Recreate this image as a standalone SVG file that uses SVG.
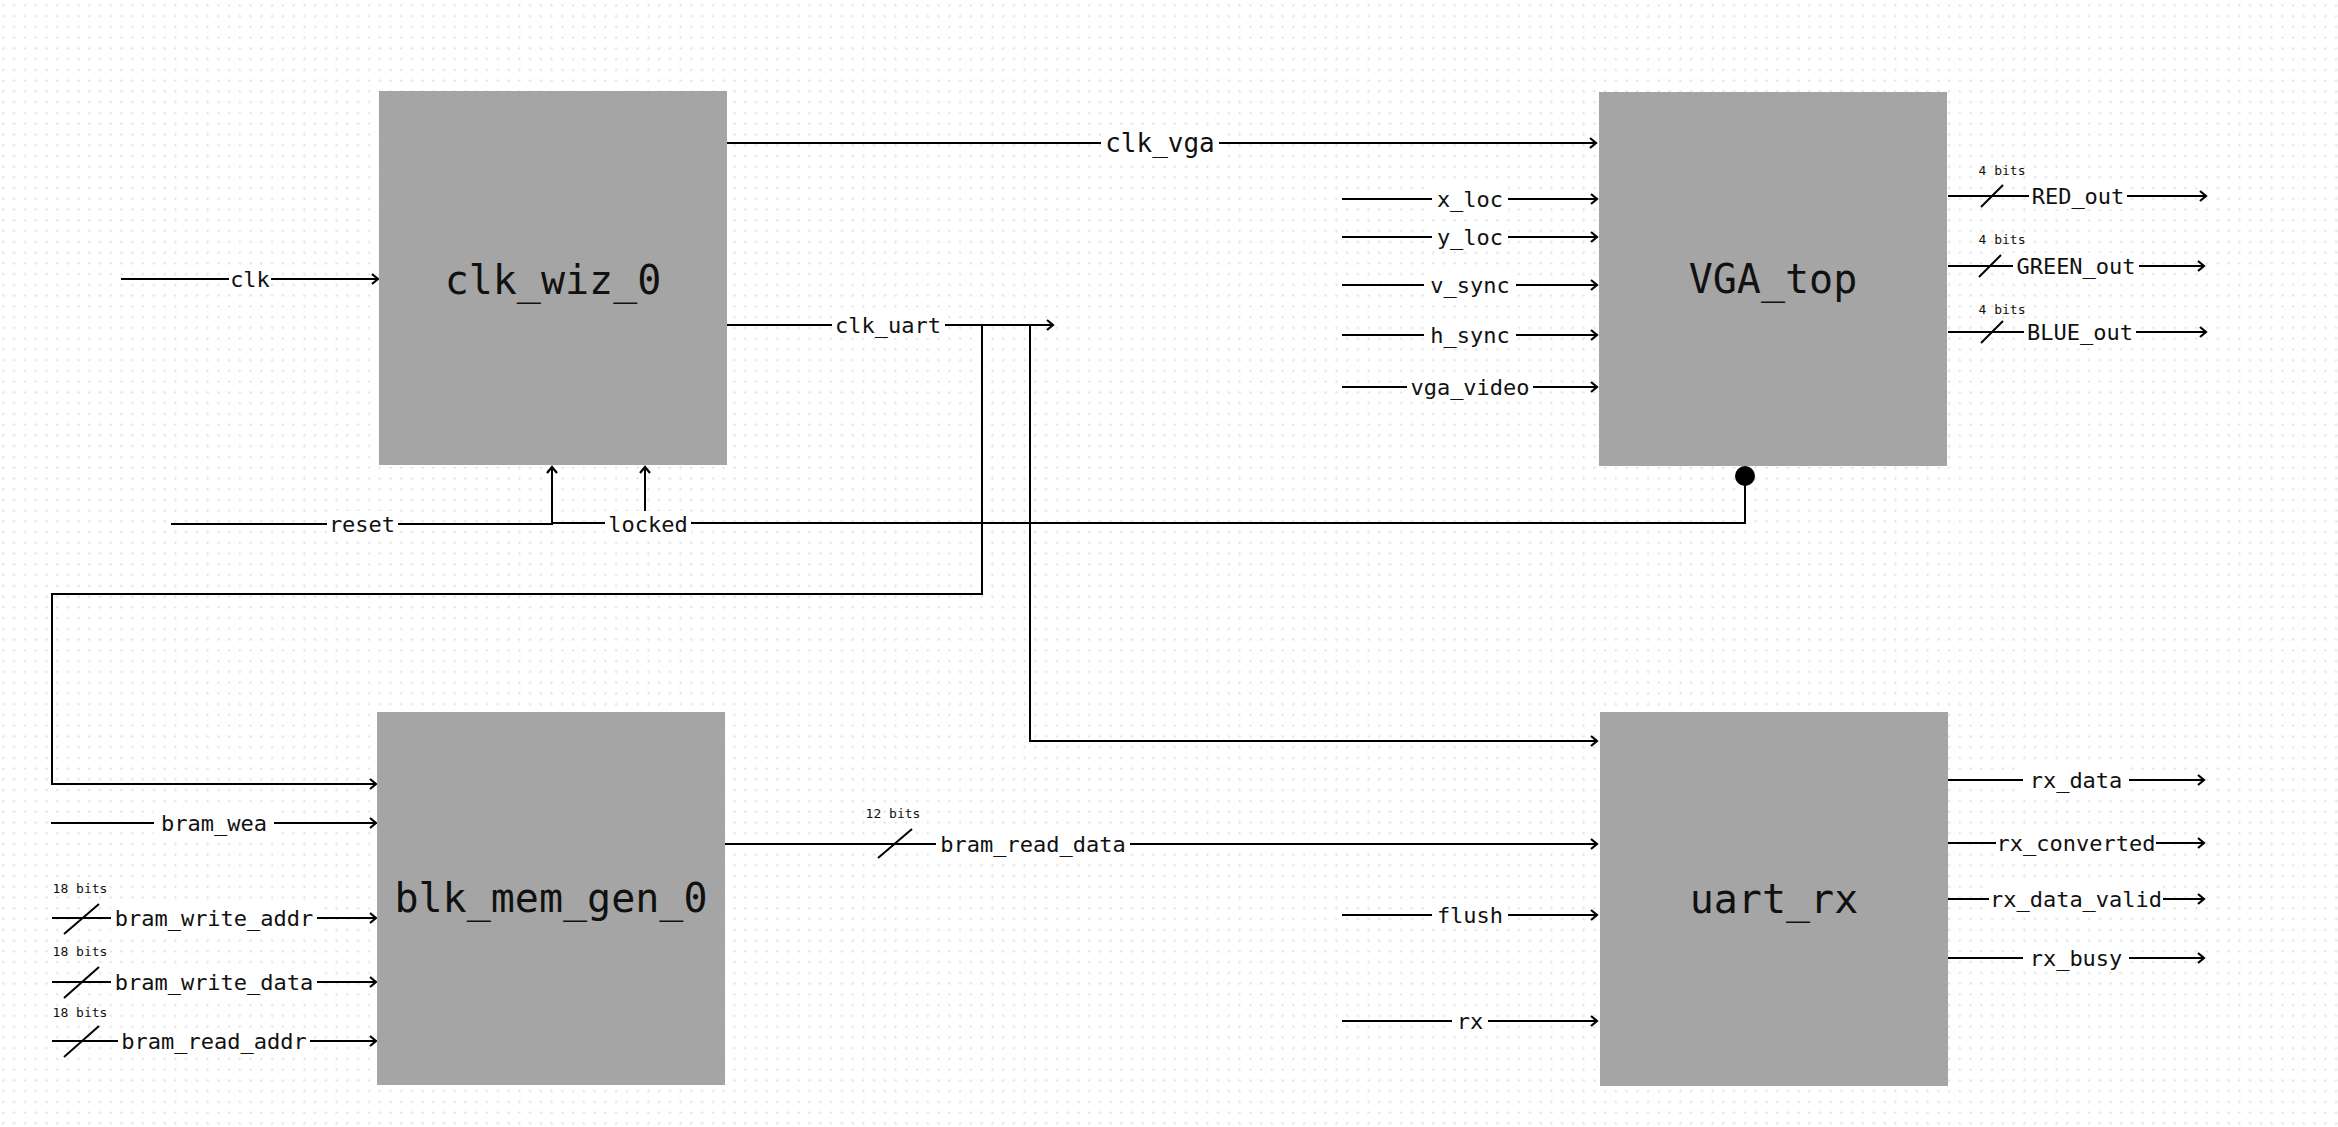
<svg xmlns="http://www.w3.org/2000/svg" width="2338" height="1127" viewBox="0 0 2338 1127">
<style>
.box{fill:#a5a5a5;}
.title{font-family:"DejaVu Sans Mono","Liberation Mono",monospace;font-size:40px;fill:#111;text-anchor:middle;dominant-baseline:central;}
.lbl{font-family:"DejaVu Sans Mono","Liberation Mono",monospace;font-size:22px;fill:#111;text-anchor:middle;dominant-baseline:central;}
.big{font-size:26px;}
.bits{font-family:"DejaVu Sans Mono","Liberation Mono",monospace;font-size:13px;fill:#111;text-anchor:middle;dominant-baseline:central;}
.w{stroke:#000;stroke-width:2;fill:none;}
.a{marker-end:url(#arr);}
.bg{fill:#fff;}
</style>
<defs>
<marker id="arr" markerUnits="userSpaceOnUse" markerWidth="14" markerHeight="14" viewBox="0 0 14 14" refX="11" refY="7" orient="auto">
<path d="M5,2 L11,7 L5,12" stroke="#000" stroke-width="2.2" fill="none"/>
</marker>
<pattern id="grid" patternUnits="userSpaceOnUse" x="0" y="0" width="10.75" height="10.75">
<circle cx="3.4" cy="5.3" r="1.2" fill="#e2e2e2"/>
</pattern>
</defs>
<rect width="2338" height="1127" fill="#fff"/>
<rect width="2338" height="1127" fill="url(#grid)"/>

<g id="connectors">
<!-- clk -->
<path class="w a" d="M121,279 H378"/>
<!-- clk_vga -->
<path class="w a" d="M727,143 H1596"/>
<!-- clk_uart -->
<path class="w a" d="M727,325 H1053"/>
<path class="w a" d="M982,325 V594 H52 V784 H376"/>
<path class="w a" d="M1030,325 V741 H1597"/>
<!-- reset -->
<path class="w a" d="M171,524 H552 V467"/>
<!-- locked -->
<path class="w" d="M1745,476 V523 H552"/>
<path class="w a" d="M645,523 V467"/>
<circle cx="1745" cy="476" r="10" fill="#000"/>
<!-- VGA inputs -->
<path class="w a" d="M1342,199 H1597"/>
<path class="w a" d="M1342,237 H1597"/>
<path class="w a" d="M1342,285 H1597"/>
<path class="w a" d="M1342,335 H1597"/>
<path class="w a" d="M1342,387 H1597"/>
<!-- VGA outputs -->
<path class="w a" d="M1948,196 H2206"/>
<path class="w a" d="M1948,266 H2204"/>
<path class="w a" d="M1948,332 H2206"/>
<path class="w" d="M1981,207 L2003,185"/>
<path class="w" d="M1979,277 L2001,255"/>
<path class="w" d="M1981,343 L2003,321"/>
<!-- bram inputs -->
<path class="w a" d="M51,823 H376"/>
<path class="w a" d="M52,918 H376"/>
<path class="w a" d="M52,982 H376"/>
<path class="w a" d="M52,1041 H376"/>
<path class="w" d="M64,934 L99,904"/>
<path class="w" d="M64,998 L99,967"/>
<path class="w" d="M64,1057 L99,1026"/>
<!-- bram_read_data -->
<path class="w a" d="M725,844 H1597"/>
<path class="w" d="M878,858 L912,829"/>
<!-- uart inputs -->
<path class="w a" d="M1342,915 H1597"/>
<path class="w a" d="M1342,1021 H1597"/>
<!-- uart outputs -->
<path class="w a" d="M1948,780 H2204"/>
<path class="w a" d="M1948,843 H2204"/>
<path class="w a" d="M1948,899 H2204"/>
<path class="w a" d="M1948,958 H2204"/>
</g>

<g id="labels">
<rect class="bg" x="229" y="266" width="42" height="26"/><text class="lbl" x="250" y="279">clk</text>
<rect class="bg" x="1101" y="127" width="118" height="32"/><text class="lbl big" x="1160" y="143">clk_vga</text>
<rect class="bg" x="832" y="312" width="113" height="26"/><text class="lbl" x="888" y="325">clk_uart</text>
<rect class="bg" x="327" y="511" width="71" height="26"/><text class="lbl" x="362" y="524">reset</text>
<rect class="bg" x="605" y="511" width="86" height="26"/><text class="lbl" x="648" y="524">locked</text>
<rect class="bg" x="1432" y="186" width="76" height="26"/><text class="lbl" x="1470" y="199">x_loc</text>
<rect class="bg" x="1432" y="224" width="76" height="26"/><text class="lbl" x="1470" y="237">y_loc</text>
<rect class="bg" x="1424" y="272" width="92" height="26"/><text class="lbl" x="1470" y="285">v_sync</text>
<rect class="bg" x="1424" y="322" width="92" height="26"/><text class="lbl" x="1470" y="335">h_sync</text>
<rect class="bg" x="1407" y="374" width="126" height="26"/><text class="lbl" x="1470" y="387">vga_video</text>
<rect class="bg" x="2029" y="183" width="98" height="26"/><text class="lbl" x="2078" y="196">RED_out</text>
<rect class="bg" x="2013" y="253" width="126" height="26"/><text class="lbl" x="2076" y="266">GREEN_out</text>
<rect class="bg" x="2024" y="319" width="112" height="26"/><text class="lbl" x="2080" y="332">BLUE_out</text>
<text class="bits" x="2002" y="170">4 bits</text>
<text class="bits" x="2002" y="239">4 bits</text>
<text class="bits" x="2002" y="309">4 bits</text>
<rect class="bg" x="154" y="810" width="120" height="26"/><text class="lbl" x="214" y="823">bram_wea</text>
<rect class="bg" x="111" y="905" width="206" height="26"/><text class="lbl" x="214" y="918">bram_write_addr</text>
<rect class="bg" x="111" y="969" width="206" height="26"/><text class="lbl" x="214" y="982">bram_write_data</text>
<rect class="bg" x="118" y="1028" width="192" height="26"/><text class="lbl" x="214" y="1041">bram_read_addr</text>
<text class="bits" x="80" y="888">18 bits</text>
<text class="bits" x="80" y="951">18 bits</text>
<text class="bits" x="80" y="1012">18 bits</text>
<rect class="bg" x="936" y="831" width="194" height="26"/><text class="lbl" x="1033" y="844">bram_read_data</text>
<text class="bits" x="893" y="813">12 bits</text>
<rect class="bg" x="1432" y="902" width="76" height="26"/><text class="lbl" x="1470" y="915">flush</text>
<rect class="bg" x="1452" y="1008" width="36" height="26"/><text class="lbl" x="1470" y="1021">rx</text>
<rect class="bg" x="2023" y="767" width="106" height="26"/><text class="lbl" x="2076" y="780">rx_data</text>
<rect class="bg" x="1996" y="830" width="160" height="26"/><text class="lbl" x="2076" y="843">rx_converted</text>
<rect class="bg" x="1989" y="886" width="174" height="26"/><text class="lbl" x="2076" y="899">rx_data_valid</text>
<rect class="bg" x="2023" y="945" width="106" height="26"/><text class="lbl" x="2076" y="958">rx_busy</text>
</g>

<g id="clk_wiz_0">
<rect class="box" x="379" y="91" width="348" height="374"/>
<text class="title" x="553" y="280">clk_wiz_0</text>
</g>
<g id="VGA_top">
<rect class="box" x="1599" y="92" width="348" height="374"/>
<text class="title" x="1773" y="279">VGA_top</text>
</g>
<g id="blk_mem_gen_0">
<rect class="box" x="377" y="712" width="348" height="373"/>
<text class="title" x="551" y="898">blk_mem_gen_0</text>
</g>
<g id="uart_rx">
<rect class="box" x="1600" y="712" width="348" height="374"/>
<text class="title" x="1774" y="899">uart_rx</text>
</g>
</svg>
